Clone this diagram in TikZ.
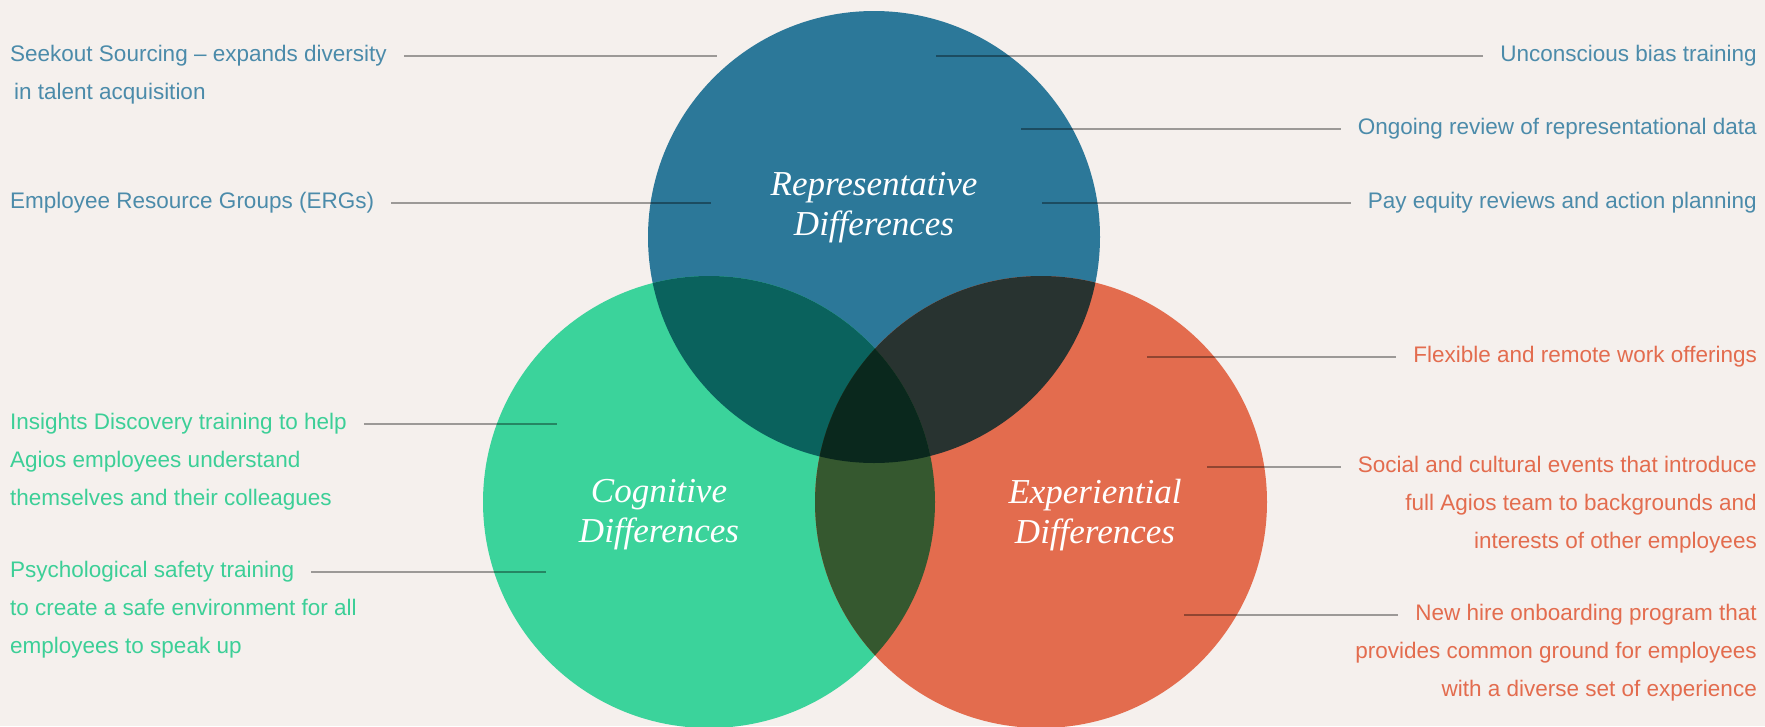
\documentclass[tikz,border=0pt]{standalone}
\usepackage{fontspec}
\usetikzlibrary{positioning}
\newfontfamily\labelfont{Liberation Sans}
\newfontfamily\circfont{Liberation Serif}

\definecolor{paper}{HTML}{F5F0ED}
\definecolor{repblue}{HTML}{2C7899}
\definecolor{coggreen}{HTML}{3BD39B}
\definecolor{expred}{HTML}{E36C4E}
\definecolor{repcog}{HTML}{0A625D}
\definecolor{repexp}{HTML}{283330}
\definecolor{cogexp}{HTML}{35582F}
\definecolor{allthree}{HTML}{0A281D}
\definecolor{reptext}{HTML}{4B8BAA}
\definecolor{cogtext}{HTML}{3CCF97}
\definecolor{exptext}{HTML}{E36C4E}

\begin{document}
\begin{tikzpicture}[x=1pt,y=-1pt,
  lbl/.style={inner sep=0pt,text height=16pt,text depth=5pt,font=\labelfont\fontsize{22.5}{27}\selectfont},
  ctitle/.style={text=white,align=center,inner sep=0pt,font=\circfont\itshape\fontsize{35}{40}\selectfont},
  leader/.style={draw=black,opacity=0.36,line width=1.2pt,shorten <=17pt}]

\useasboundingbox (0,0) rectangle (1765,726);
\fill[paper] (0,0) rectangle (1765,726);

% the three circles
\coordinate (rep) at (874,237);
\coordinate (cog) at (709,502);
\coordinate (exp) at (1041,502);
\fill[repblue] (rep) circle[radius=226pt];
\fill[coggreen] (cog) circle[radius=226pt];
\fill[expred] (exp) circle[radius=226pt];
\begin{scope}
\clip (rep) circle[radius=226pt];
\fill[repcog] (cog) circle[radius=226pt];
\fill[repexp] (exp) circle[radius=226pt];
\end{scope}
\begin{scope}
\clip (cog) circle[radius=226pt];
\fill[cogexp] (exp) circle[radius=226pt];
\clip (rep) circle[radius=226pt];
\fill[allthree] (exp) circle[radius=226pt];
\end{scope}

\node[ctitle] (repT) at (874,208) {Representative\\Differences};
\node[ctitle] (cogT) at (659,515) {Cognitive\\Differences};
\node[ctitle] (expT) at (1095,515) {Experiential\\Differences};

% representative
\node[lbl,anchor=west,text=reptext] (seek) at (10,56) {Seekout Sourcing – expands diversity};
\node[lbl,text=reptext,below right=16.5pt and 4pt of seek.south west] (seek2) {in talent acquisition};
\node[lbl,anchor=west,text=reptext] (erg) at (10,203) {Employee Resource Groups (ERGs)};
\node[lbl,anchor=east,text=reptext] (unc) at (1757,56) {Unconscious bias training};
\node[lbl,anchor=east,text=reptext] (ong) at (1757,129) {Ongoing review of representational data};
\node[lbl,anchor=east,text=reptext] (pay) at (1757,203) {Pay equity reviews and action planning};

% cognitive
\node[lbl,anchor=west,text=cogtext] (ins) at (10,424) {Insights Discovery training to help};
\node[lbl,text=cogtext,below right=16.5pt and 0pt of ins.south west] (ins2) {Agios employees understand};
\node[lbl,text=cogtext,below right=16.5pt and 0pt of ins2.south west] (ins3) {themselves and their colleagues};
\node[lbl,anchor=west,text=cogtext] (psy) at (10,572) {Psychological safety training};
\node[lbl,text=cogtext,below right=16.5pt and 0pt of psy.south west] (psy2) {to create a safe environment for all};
\node[lbl,text=cogtext,below right=16.5pt and 0pt of psy2.south west] (psy3) {employees to speak up};

% experiential
\node[lbl,anchor=east,text=exptext] (flex) at (1757,357) {Flexible and remote work offerings};
\node[lbl,anchor=east,text=exptext] (soc) at (1757,467) {Social and cultural events that introduce};
\node[lbl,text=exptext,below left=16.5pt and 0pt of soc.south east] (soc2) {full Agios team to backgrounds and};
\node[lbl,text=exptext,below left=16.5pt and 0pt of soc2.south east] (soc3) {interests of other employees};
\node[lbl,anchor=east,text=exptext] (new) at (1757,615) {New hire onboarding program that};
\node[lbl,text=exptext,below left=16.5pt and 0pt of new.south east] (new2) {provides common ground for employees};
\node[lbl,text=exptext,below left=16.5pt and 0pt of new2.south east] (new3) {with a diverse set of experience};

% leader lines
\coordinate (seekIn) at (717,0);
\coordinate (ergIn) at (711,0);
\coordinate (uncIn) at (936,0);
\coordinate (ongIn) at (1021,0);
\coordinate (payIn) at (1042,0);
\coordinate (insIn) at (557,0);
\coordinate (psyIn) at (546,0);
\coordinate (flexIn) at (1147,0);
\coordinate (socIn) at (1207,0);
\coordinate (newIn) at (1184,0);
\draw[leader] (seek.east) -- (seek.east -| seekIn);
\draw[leader] (erg.east) -- (erg.east -| ergIn);
\draw[leader] (unc.west) -- (unc.west -| uncIn);
\draw[leader] (ong.west) -- (ong.west -| ongIn);
\draw[leader] (pay.west) -- (pay.west -| payIn);
\draw[leader] (ins.east) -- (ins.east -| insIn);
\draw[leader] (psy.east) -- (psy.east -| psyIn);
\draw[leader] (flex.west) -- (flex.west -| flexIn);
\draw[leader] (soc.west) -- (soc.west -| socIn);
\draw[leader] (new.west) -- (new.west -| newIn);
\end{tikzpicture}
\end{document}
